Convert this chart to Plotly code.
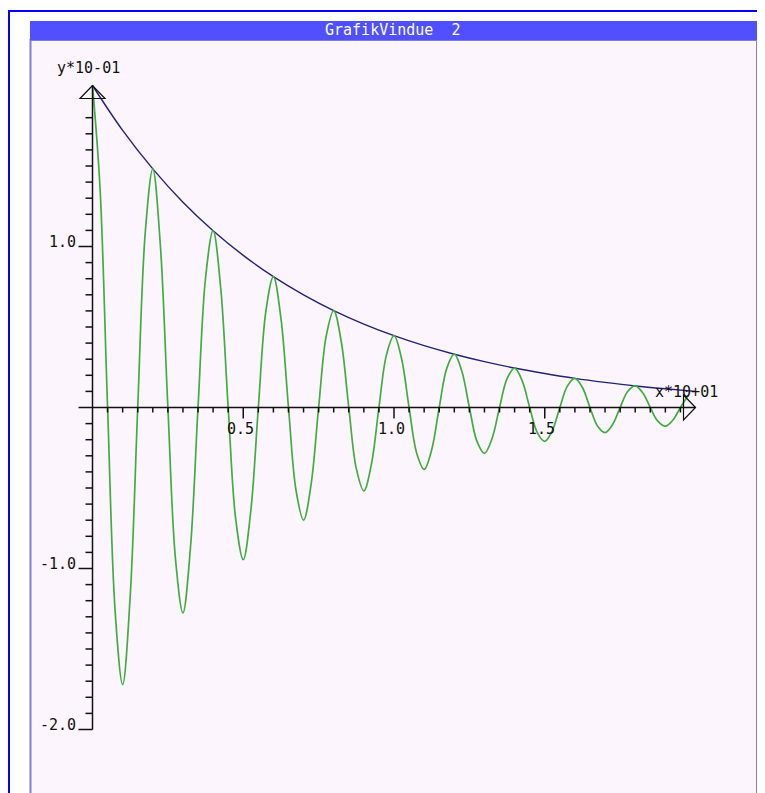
import plotly.graph_objects as go

# ---------------- data (axis units: x*10+01, y*10-01) ----------------
wave_x = [0.000, 0.025, 0.050, 0.075, 0.100, 0.125, 0.150, 0.175, 0.200, 0.225,
          0.250, 0.275, 0.300, 0.325, 0.350, 0.375, 0.400, 0.425, 0.450, 0.475,
          0.500, 0.525, 0.550, 0.575, 0.600, 0.625, 0.650, 0.675, 0.700, 0.725,
          0.750, 0.775, 0.800, 0.825, 0.850, 0.875, 0.900, 0.925, 0.950, 0.975,
          1.000, 1.025, 1.050, 1.075, 1.100, 1.125, 1.150, 1.175, 1.200, 1.225,
          1.250, 1.275, 1.300, 1.325, 1.350, 1.375, 1.400, 1.425, 1.450, 1.475,
          1.500, 1.525, 1.550, 1.575, 1.600, 1.625, 1.650, 1.675, 1.700, 1.725,
          1.750, 1.775, 1.800, 1.825, 1.850, 1.875, 1.900, 1.925, 1.950, 1.975]
wave_y = [2.000, 1.362, 0.0, -1.263, -1.721, -1.172, 0.0, 1.087, 1.482, 1.009,
          0.0, -0.936, -1.275, -0.868, 0.0, 0.806, 1.098, 0.747, 0.0, -0.694,
          -0.945, -0.643, 0.0, 0.597, 0.813, 0.554, 0.0, -0.514, -0.700, -0.477,
          0.0, 0.442, 0.602, 0.410, 0.0, -0.380, -0.518, -0.353, 0.0, 0.327,
          0.446, 0.304, 0.0, -0.282, -0.384, -0.262, 0.0, 0.243, 0.331, 0.225,
          0.0, -0.209, -0.285, -0.194, 0.0, 0.180, 0.245, 0.167, 0.0, -0.155,
          -0.211, -0.144, 0.0, 0.133, 0.181, 0.124, 0.0, -0.115, -0.156, -0.106,
          0.0, 0.099, 0.134, 0.091, 0.0, -0.085, -0.116, -0.078, 0.0, 0.073]

env_x = [0.0, 0.1, 0.2, 0.3, 0.4, 0.5, 0.6, 0.7, 0.8, 0.9, 1.0,
         1.1, 1.2, 1.3, 1.4, 1.5, 1.6, 1.7, 1.8, 1.9, 2.0]
env_y = [2.000, 1.721, 1.482, 1.275, 1.098, 0.945, 0.813, 0.700, 0.602, 0.518, 0.446,
         0.384, 0.331, 0.285, 0.245, 0.211, 0.181, 0.156, 0.134, 0.116, 0.100]

x_minor_ticks = [0.05, 0.1, 0.15, 0.2, 0.25, 0.3, 0.35, 0.4, 0.45,
                 0.55, 0.6, 0.65, 0.7, 0.75, 0.8, 0.85, 0.9, 0.95,
                 1.05, 1.1, 1.15, 1.2, 1.25, 1.3, 1.35, 1.4, 1.45,
                 1.55, 1.6, 1.65, 1.7, 1.75, 1.8, 1.85, 1.9, 1.95]
x_major_ticks = [0.5, 1.0, 1.5]
x_tick_labels = ["0.5", "1.0", "1.5"]

y_minor_ticks = [-1.9, -1.8, -1.7, -1.6, -1.5, -1.4, -1.3, -1.2, -1.1,
                 -0.9, -0.8, -0.7, -0.6, -0.5, -0.4, -0.3, -0.2, -0.1,
                 0.1, 0.2, 0.3, 0.4, 0.5, 0.6, 0.7, 0.8, 0.9,
                 1.1, 1.2, 1.3, 1.4, 1.5, 1.6, 1.7, 1.8]
y_major_ticks = [-2.0, -1.0, 0.0, 1.0]
y_tick_labels = ["-2.0", "-1.0", "", "1.0"]

title_text = "GrafikVindue\u00a0\u00a02"
x_axis_label = "x*10+01"
y_axis_label = "y*10-01"

# ---------------- layout geometry ----------------
# page body has an 8px margin, so the figure is 8px smaller and all
# reference-pixel positions are shifted by OFF
OFF = 8
W, H = 765 - OFF, 793 - OFF
ORIG_X, SCALE_X = 92.5 - OFF, 301.5   # px of x=0, px per unit
ORIG_Y, SCALE_Y = 407.5 - OFF, 161.0  # px of y=0, px per unit
x_range = [-ORIG_X / SCALE_X, (W - ORIG_X) / SCALE_X]
y_range = [-(H - ORIG_Y) / SCALE_Y, ORIG_Y / SCALE_Y]

def px(x):
    return (x - OFF) / W

def py(y):
    return 1 - (y - OFF) / H

MONO = "DejaVu Sans Mono"
AX = "#111111"

shapes = []
# outer window border
shapes.append(dict(type="rect", xref="paper", yref="paper", layer="below",
                   x0=px(9), x1=px(790), y0=py(11), y1=py(830),
                   line=dict(color="#0000ff", width=2), fillcolor="white"))
# inner panel
shapes.append(dict(type="rect", xref="paper", yref="paper", layer="below",
                   x0=px(30.5), x1=px(757), y0=py(40), y1=py(820),
                   line=dict(color="#7e7ed8", width=2), fillcolor="#fdf5fd"))
# title bar
shapes.append(dict(type="rect", xref="paper", yref="paper", layer="below",
                   x0=px(30), x1=px(757.5), y0=py(21), y1=py(40),
                   line=dict(width=0), fillcolor="#5050ff"))

# axes lines
shapes.append(dict(type="line", xref="x", yref="y", x0=0, x1=2.0, y0=0, y1=0,
                   line=dict(color=AX, width=1.5)))
shapes.append(dict(type="line", xref="x", yref="y", x0=0, x1=0, y0=-2.0, y1=2.0,
                   line=dict(color=AX, width=1.5)))

# x ticks (downward)
for t in x_minor_ticks:
    shapes.append(dict(type="line", xref="x", yref="y", x0=t, x1=t,
                       ysizemode="pixel", yanchor=0, y0=0, y1=-5,
                       line=dict(color=AX, width=1.5)))
for t in x_major_ticks:
    shapes.append(dict(type="line", xref="x", yref="y", x0=t, x1=t,
                       ysizemode="pixel", yanchor=0, y0=0, y1=-11,
                       line=dict(color=AX, width=1.5)))
# y ticks (leftward)
for t in y_minor_ticks:
    shapes.append(dict(type="line", xref="x", yref="y", y0=t, y1=t,
                       xsizemode="pixel", xanchor=0, x0=0, x1=-7,
                       line=dict(color=AX, width=1.5)))
for t in y_major_ticks:
    shapes.append(dict(type="line", xref="x", yref="y", y0=t, y1=t,
                       xsizemode="pixel", xanchor=0, x0=0, x1=-14,
                       line=dict(color=AX, width=1.5)))

# arrow heads (open triangles)
shapes.append(dict(type="path", xref="x", yref="y",
                   xsizemode="pixel", ysizemode="pixel", xanchor=0, yanchor=2.0,
                   path="M0,0 L-12.5,-13 L12.5,-13 Z",
                   line=dict(color=AX, width=1.2), fillcolor="rgba(0,0,0,0)"))
shapes.append(dict(type="path", xref="x", yref="y",
                   xsizemode="pixel", ysizemode="pixel", xanchor=2.0, yanchor=0,
                   path="M0,0 L-12,12.5 L-12,-12.5 Z",
                   line=dict(color=AX, width=1.2), fillcolor="rgba(0,0,0,0)"))

annotations = []
annotations.append(dict(xref="paper", yref="paper", x=px(392), y=py(30.5),
                        text=title_text, showarrow=False,
                        xanchor="center", yanchor="middle",
                        font=dict(family=MONO, size=15, color="white")))
annotations.append(dict(xref="x", yref="y", x=0, y=2.0, xshift=-4.5, yshift=17.5,
                        text=y_axis_label, showarrow=False,
                        xanchor="center", yanchor="middle",
                        font=dict(family=MONO, size=15, color=AX)))
annotations.append(dict(xref="x", yref="y", x=2.0, y=0, xshift=-9, yshift=15.5,
                        text=x_axis_label, showarrow=False,
                        xanchor="center", yanchor="middle",
                        font=dict(family=MONO, size=15, color=AX)))
for t, lab in zip(x_major_ticks, x_tick_labels):
    annotations.append(dict(xref="x", yref="y", x=t, y=0, xshift=-3, yshift=-21,
                            text=lab, showarrow=False,
                            xanchor="center", yanchor="middle",
                            font=dict(family=MONO, size=15, color=AX)))
for t, lab in zip(y_major_ticks, y_tick_labels):
    if not lab:
        continue
    annotations.append(dict(xref="x", yref="y", x=0, y=t, xshift=-15, yshift=5,
                            text=lab, showarrow=False,
                            xanchor="right", yanchor="middle",
                            font=dict(family=MONO, size=15, color=AX)))

fig = go.Figure()
fig.add_trace(go.Scatter(x=env_x, y=env_y, mode="lines",
                         line=dict(color="#22227a", width=1.4, shape="spline"),
                         hoverinfo="skip", showlegend=False))
fig.add_trace(go.Scatter(x=wave_x, y=wave_y, mode="lines",
                         line=dict(color="#3fae3f", width=1.7, shape="spline", smoothing=1.0),
                         hoverinfo="skip", showlegend=False))

fig.update_layout(
    width=W, height=H,
    margin=dict(l=0, r=0, t=0, b=0),
    paper_bgcolor="white",
    plot_bgcolor="rgba(0,0,0,0)",
    xaxis=dict(range=x_range, visible=False, fixedrange=True),
    yaxis=dict(range=y_range, visible=False, fixedrange=True),
    shapes=shapes,
    annotations=annotations,
    showlegend=False,
)

fig.write_html("out.html")
